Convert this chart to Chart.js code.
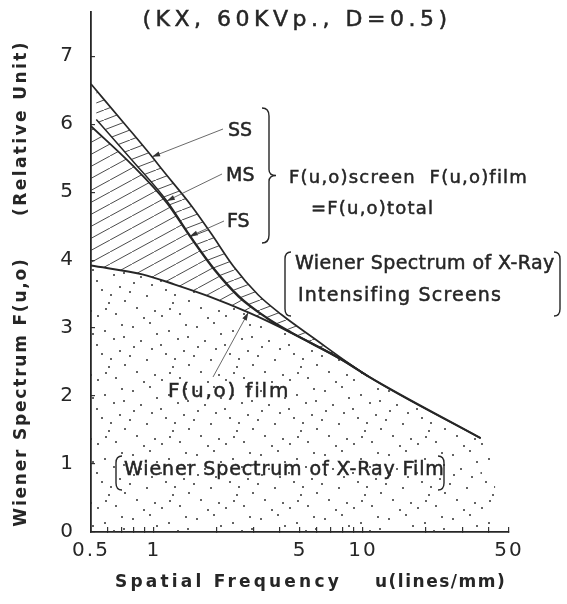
<!DOCTYPE html>
<html>
<head>
<meta charset="utf-8">
<script src="https://cdn.jsdelivr.net/npm/chart.js@4.4.1/dist/chart.umd.min.js"></script>
<style>
  html, body { margin: 0; padding: 0; background: #fff; }
  canvas { display: block; }
</style>
</head>
<body>
<canvas id="grafica" width="567" height="604"></canvas>
<script>
// spatial frequency (lines/mm) and Wiener spectrum values per curve
const freqSS = [0.5, 0.74, 0.98, 1.09, 1.52, 1.89, 2.4, 3.15, 4.07, 5.65, 10.6, 36.6]
const specSS = [6.59, 5.97, 5.52, 5.34, 4.79, 4.38, 3.91, 3.49, 3.2, 2.88, 2.29, 1.38]

const freqMS = [0.53, 0.786, 1.153, 1.484, 1.95, 2.54, 3.45, 4.54, 7.86, 10.6]
const specMS = [6.07, 5.47, 4.87, 4.37, 3.87, 3.48, 3.16, 2.94, 2.55, 2.29]

const freqFS = [0.5, 0.786, 1.153, 1.484, 1.95, 2.54, 3.45, 4.54, 7.86, 10.6]
const specFS = [5.97, 5.4, 4.84, 4.35, 3.85, 3.46, 3.15, 2.93, 2.54, 2.29]

const freqFilm = [0.5, 0.88, 1.26, 1.82, 2.83, 4.54, 7.86, 10.6, 36.6]
const specFilm = [3.92, 3.79, 3.64, 3.47, 3.23, 2.93, 2.54, 2.29, 1.38]

// dotted area keeps going a little past the end of the curve
const freqCola = [36.6, 43]
const specCola = [1.38, 1.3]

const xTicks = [0.5, 0.6, 0.7, 0.8, 0.9, 1, 2, 3, 4, 5, 6, 7, 8, 9, 10, 20, 30, 40, 50]
const xTickText = { 0.5: '0.5', 1: '1', 5: '5', 10: '10', 50: '50' }
const yTicks = [0, 1, 2, 3, 4, 5, 6, 7]

const tinta = '#262626'
const ctx = document.getElementById('grafica').getContext('2d')

function puntos(xs, ys) {
    return xs.map((x, i) => ({ x: x, y: ys[i] }))
}

// diagonal hatch tile, slope h/w
function rayado(w, h, lw) {
    let c = document.createElement('canvas')
    c.width = w
    c.height = h
    let g = c.getContext('2d')
    g.strokeStyle = '#383838'
    g.lineWidth = lw
    for (let dx of [-w, 0, w]) {
        g.beginPath()
        g.moveTo(dx, h)
        g.lineTo(dx + w, 0)
        g.stroke()
    }
    return ctx.createPattern(c, 'repeat')
}

// stipple tile for the film area
const motas = [[5, 7], [22, 3], [41, 11], [58, 5], [13, 21], [33, 25], [50, 19], [2, 36], [19, 40],
    [38, 34], [56, 31], [9, 52], [27, 55], [45, 47], [61, 45], [16, 62], [34, 60], [52, 58],
    [29, 14], [47, 39], [6, 27], [60, 17], [24, 29], [42, 53]]
function punteado() {
    let c = document.createElement('canvas')
    c.width = 64
    c.height = 64
    let g = c.getContext('2d')
    g.fillStyle = '#303030'
    motas.forEach(([x, y]) => {
        g.beginPath()
        g.arc(x, y, 1.0, 0, Math.PI * 2)
        g.fill()
    })
    return ctx.createPattern(c, 'repeat')
}

const tramaPantalla = rayado(26, 10, 0.9)
const tramaDiagonal = rayado(22, 12, 0.9)
const tramaPelicula = punteado()

function texto(c, str, x, y, size, opts = {}) {
    c.save()
    c.font = (opts.bold ? 'bold ' : '') + size + 'px "DejaVu Sans"'
    c.fillStyle = tinta
    c.strokeStyle = tinta
    c.lineWidth = 0.5
    c.letterSpacing = (opts.spacing || 0) + 'px'
    c.textAlign = opts.align || 'left'
    c.textBaseline = 'middle'
    if (opts.rotate) {
        c.translate(x, y)
        c.rotate(opts.rotate)
        x = 0
        y = 0
    }
    c.fillText(str, x, y)
    if (!opts.bold) c.strokeText(str, x, y)
    c.restore()
}

function flecha(c, x0, y0, x1, y1) {
    let a = Math.atan2(y1 - y0, x1 - x0)
    c.save()
    c.strokeStyle = '#444'
    c.fillStyle = '#333'
    c.lineWidth = 0.8
    c.beginPath()
    c.moveTo(x0, y0)
    c.lineTo(x1, y1)
    c.stroke()
    c.beginPath()
    c.moveTo(x1, y1)
    c.lineTo(x1 - 8 * Math.cos(a) + 2.5 * Math.sin(a), y1 - 8 * Math.sin(a) - 2.5 * Math.cos(a))
    c.lineTo(x1 - 8 * Math.cos(a) - 2.5 * Math.sin(a), y1 - 8 * Math.sin(a) + 2.5 * Math.cos(a))
    c.closePath()
    c.fill()
    c.restore()
}

// vertical bracket, lado = 1 opens to the right, -1 opens to the left
function corchete(c, x, y0, y1, lado) {
    c.save()
    c.strokeStyle = tinta
    c.lineWidth = 1.4
    c.beginPath()
    c.moveTo(x + 6 * lado, y0)
    c.quadraticCurveTo(x, y0, x, y0 + 7)
    c.lineTo(x, y1 - 7)
    c.quadraticCurveTo(x, y1, x + 6 * lado, y1)
    c.stroke()
    c.restore()
}

function llave(c, x, y0, y1) {
    let ym = (y0 + y1) / 2
    c.save()
    c.strokeStyle = tinta
    c.lineWidth = 1.4
    c.beginPath()
    c.moveTo(x - 4, y0)
    c.quadraticCurveTo(x + 3, y0, x + 3, y0 + 8)
    c.lineTo(x + 3, ym - 6)
    c.quadraticCurveTo(x + 3, ym, x + 10, ym)
    c.quadraticCurveTo(x + 3, ym, x + 3, ym + 6)
    c.lineTo(x + 3, y1 - 8)
    c.quadraticCurveTo(x + 3, y1, x - 4, y1)
    c.stroke()
    c.restore()
}

const espaciado = {
    id: 'espaciado',
    beforeDraw(chart) { chart.ctx.letterSpacing = '2px' },
    afterDraw(chart) { chart.ctx.letterSpacing = '0px' }
}

const notas = {
    id: 'notas',
    afterDraw(chart) {
        const c = chart.ctx
        const punta = (d, i) => chart.getDatasetMeta(d).data[i]

        texto(c, '(KX, 60KVp., D=0.5)', 297, 20, 22, { align: 'center', spacing: 4.5 })

        texto(c, 'Wiener Spectrum F(u,o)', 22, 392, 17, { bold: true, align: 'center', spacing: 1.8, rotate: -Math.PI / 2 })
        texto(c, '(Relative Unit)', 22, 128, 17, { bold: true, align: 'center', spacing: 2.4, rotate: -Math.PI / 2 })
        texto(c, 'Spatial Frequency', 115, 583, 17, { bold: true, spacing: 3.2 })
        texto(c, 'u(lines/mm)', 375, 583, 17, { bold: true, spacing: 1.5 })

        texto(c, 'SS', 228, 131, 19)
        texto(c, 'MS', 226, 176, 19)
        texto(c, 'FS', 227, 222, 19)
        let p = punta(3, 2)
        flecha(c, 223, 129, p.x, p.y)
        p = punta(2, 2)
        flecha(c, 222, 174, p.x, p.y)
        p = punta(1, 3)
        flecha(c, 224, 221, p.x, p.y)

        llave(c, 266, 108, 243)
        texto(c, 'F(u,o)screen  F(u,o)film', 289, 178, 18, { spacing: 1.2 })
        texto(c, '=F(u,o)total', 311, 209, 18, { spacing: 1.2 })

        corchete(c, 285, 252, 316, 1)
        corchete(c, 560, 252, 316, -1)
        texto(c, 'Wiener Spectrum of X-Ray', 295, 264, 19, { spacing: 0.4 })
        texto(c, 'Intensifing Screens', 298, 296, 19, { spacing: 1.2 })

        texto(c, 'F(u,o) film', 168, 392, 20, { spacing: 1.8 })
        p = punta(0, 4)
        flecha(c, 213, 377, p.x, p.y)

        corchete(c, 116, 456, 490, 1)
        corchete(c, 444, 456, 490, -1)
        texto(c, 'Wiener Spectrum of X-Ray Film', 124, 470, 19, { spacing: 0.9 })
    }
}

const linea = {
    borderColor: tinta,
    pointRadius: 0,
    cubicInterpolationMode: 'monotone'
}

const grafica = new Chart(ctx, {
    type: 'line',
    data: {
        datasets: [{
            ...linea,
            label: 'F(u,o) film',
            data: puntos(freqFilm, specFilm),
            borderWidth: 2,
            fill: 'origin',
            backgroundColor: tramaPelicula
        }, {
            ...linea,
            label: 'FS',
            data: puntos(freqFS, specFS),
            borderWidth: 1.8,
            fill: 0,
            backgroundColor: tramaDiagonal
        }, {
            ...linea,
            label: 'MS',
            data: puntos(freqMS, specMS),
            borderWidth: 1.5,
            fill: false
        }, {
            ...linea,
            label: 'SS',
            data: puntos(freqSS, specSS),
            borderWidth: 1.7,
            fill: 2,
            backgroundColor: tramaPantalla
        }, {
            ...linea,
            label: 'cola',
            data: puntos(freqCola, specCola),
            borderWidth: 0,
            borderColor: 'rgba(0,0,0,0)',
            fill: 'origin',
            backgroundColor: tramaPelicula
        }]
    },
    options: {
        responsive: false,
        animation: false,
        layout: { padding: { top: 12, right: 58, left: 0, bottom: 0 } },
        plugins: { legend: { display: false }, tooltip: { enabled: false } },
        scales: {
            x: {
                type: 'logarithmic',
                min: 0.5,
                max: 50,
                afterBuildTicks: s => { s.ticks = xTicks.map(v => ({ value: v })) },
                afterFit: s => {
                    s.height = 72
                    s.paddingLeft = 0
                    s.paddingRight = 0
                },
                ticks: {
                    autoSkip: false,
                    maxRotation: 0,
                    padding: 12,
                    color: tinta,
                    font: { family: 'DejaVu Sans', size: 20 },
                    callback: v => xTickText[v] || ''
                },
                grid: { drawOnChartArea: false, tickLength: -5, color: '#333', lineWidth: 1.2 },
                border: { color: tinta, width: 1.8 }
            },
            y: {
                min: 0,
                max: 7.65,
                afterBuildTicks: s => { s.ticks = yTicks.map(v => ({ value: v })) },
                afterFit: s => {
                    s.width = 91
                    s.paddingTop = 0
                    s.paddingBottom = 0
                },
                ticks: {
                    padding: 20,
                    color: tinta,
                    font: { family: 'DejaVu Sans', size: 20 }
                },
                grid: { drawOnChartArea: false, tickLength: -4, color: '#333', lineWidth: 1.2 },
                border: { color: tinta, width: 1.8 }
            }
        }
    },
    plugins: [espaciado, notas]
})
</script>
</body>
</html>
